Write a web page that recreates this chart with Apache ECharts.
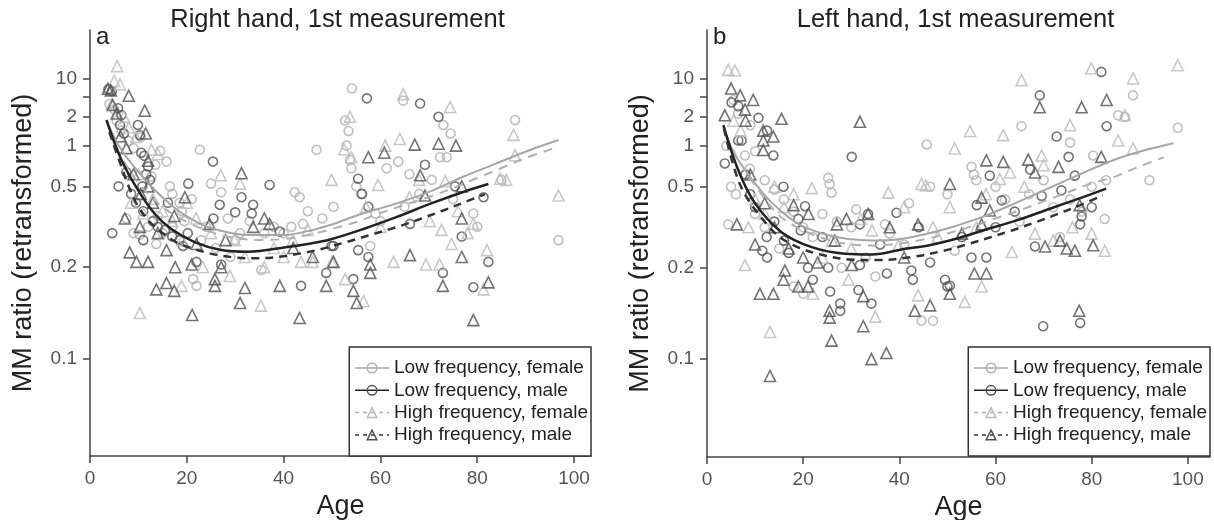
<!DOCTYPE html>
<html><head><meta charset="utf-8">
<script src="https://cdn.jsdelivr.net/npm/echarts@6/dist/echarts.min.js"></script>
<style>html,body{margin:0;padding:0;background:#fff}#c{width:1214px;height:520px}</style>
</head><body><div id="c"></div><script>
// ---------- data (age, MM ratio) ----------
const seriesNames = ['Low frequency, female','Low frequency, male','High frequency, female','High frequency, male'];
const panelTitles = ['Right hand, 1st measurement','Left hand, 1st measurement'];
const panelLetters = ['a','b'];
const ageTicks = [0,20,40,60,80,100];
const yTickValues = [0.1,0.2,0.5,1,2,4,10];
const yLabelValues = [0.1,0.2,0.5,1,2,10];

// Panel a points
const aLFF = [[4,3],[5,2.5],[5.5,1.8],[6.5,1.4],[8,1.1],[9,0.95],[10.5,1.2],[12.7,0.58],[13.5,0.7],[14.5,0.9],[15.8,0.74],[16.5,0.5],[17,0.45],[18.5,0.4],[19,0.36],[21,0.42],[22.7,0.92],[24,0.3],[25,0.52],[27.1,0.46],[28.5,0.33],[30,0.26],[31,0.28],[21.3,0.18],[22,0.17],[10.3,0.275],[13.7,0.25],[14,0.34],[7.5,0.33],[9,0.28],[35.4,0.195],[41.6,0.3],[42.3,0.46],[43.3,0.43],[44,0.31],[46.8,0.92],[40,0.28],[48,0.33],[50.3,0.38],[52.7,1.8],[53.4,1.38],[53,1.0],[53.7,0.76],[54,0.66],[54.1,5.7],[55,0.5],[56,0.45],[57.9,0.245],[59,0.35],[61.3,0.66],[63.7,0.74],[64.7,3.4],[66,0.6],[70.6,0.55],[72.3,0.8],[73.7,0.8],[73,1.6],[74.5,1.3],[75,0.42],[79.2,0.35],[80,0.3],[87.8,1.83],[85,0.55],[96.8,0.26],[60,0.32],[65,0.38],[68,0.45],[45,0.36],[38,0.3],[33,0.32],[36,0.28],[26,0.24],[29,0.22],[17,0.3],[19.5,0.32],[15,0.28],[12,0.3],[23,0.26]];
const aLFM = [[3.8,5.5],[4.5,5.0],[5.8,2.6],[6.5,2.1],[6.2,1.6],[7,1.3],[9.9,1.6],[10.3,1.25],[10.6,0.87],[11.2,0.82],[11.6,0.6],[12,0.68],[12.4,0.55],[10.8,0.5],[7.5,0.62],[5.9,0.5],[8.5,0.45],[9.5,0.4],[11,0.36],[13,0.32],[14,0.3],[16.1,0.4],[15.5,0.29],[17,0.27],[18.5,0.26],[4.6,0.28],[11,0.26],[20.3,0.52],[19.2,0.245],[20.2,0.28],[22,0.21],[25.4,0.74],[26.8,0.39],[25.5,0.33],[27.1,0.205],[30,0.355],[31.3,0.43],[33.4,0.35],[33.7,0.39],[37.1,0.51],[39.2,0.285],[43.6,0.17],[48.8,0.19],[49.9,0.245],[57.2,3.7],[68.2,3.05],[72,2.0],[69.2,0.7],[55.4,0.56],[56.2,0.45],[57.5,0.38],[75.4,0.5],[81.3,0.43],[66.1,0.31],[76.8,0.27],[50.3,0.245],[55.4,0.235],[57.5,0.22],[82.3,0.21],[72.9,0.19],[54.4,0.18],[79.2,0.168]];
const aHFF = [[5.6,27],[5,8.5],[6.2,7],[4.5,3],[7,2],[8,1.5],[9.5,1.2],[12.7,0.92],[14,0.85],[10,0.6],[8.5,0.4],[11,0.35],[13,0.42],[27,0.59],[31,0.52],[21.9,0.33],[23.3,0.2],[28.9,0.185],[18.9,0.17],[35.3,0.145],[10.3,0.137],[29.9,0.26],[41.9,0.26],[43.6,0.21],[46,0.21],[50,0.21],[49.9,0.55],[53.7,2.0],[52.5,0.93],[54,0.8],[52.7,0.18],[56.5,0.15],[59.5,0.51],[61,1.0],[62.7,0.21],[64,1.15],[64.7,4.4],[69.4,0.205],[70.2,0.32],[72.2,0.205],[72.6,0.29],[73.4,0.54],[74.4,2.7],[74.7,0.25],[79.2,0.31],[81.3,0.165],[82,0.235],[84.7,0.56],[86,0.55],[87.5,1.26],[87.8,0.83],[96.8,0.44],[20,0.4],[25,0.28],[32,0.22],[38,0.24],[15,0.36],[17,0.32],[19,0.26],[57,0.38],[60,0.3],[66,0.43],[68,0.55],[76,0.36],[78,0.28],[45,0.29],[40,0.22],[36,0.2]];
const aHFM = [[3.7,5.6],[4.3,5.2],[8,4.1],[4.7,2.9],[11.3,2.4],[6.3,1.22],[7.5,0.95],[11.5,1.3],[12,0.75],[9,0.6],[10.5,0.45],[19.6,0.43],[17.4,0.34],[7.2,0.33],[10.3,0.3],[24.7,0.31],[37.1,0.31],[33.7,0.3],[31.3,0.61],[8.2,0.23],[9.6,0.21],[12,0.21],[15.8,0.235],[17.6,0.2],[21,0.205],[27.1,0.2],[25.8,0.18],[25.8,0.17],[13.7,0.165],[15.8,0.174],[17.4,0.163],[32,0.167],[39.2,0.17],[48.8,0.17],[31,0.148],[21.1,0.135],[43.3,0.132],[50.3,0.21],[54.4,0.163],[55.1,0.148],[57.9,0.205],[57.9,0.19],[57.5,0.8],[60.8,0.87],[66.1,0.224],[67.1,1.02],[68.2,0.59],[69.2,0.44],[72,1.04],[72.9,0.17],[75.6,1.0],[76.8,0.5],[76.8,0.33],[76.8,0.22],[79.2,0.13],[82.3,0.175],[14,0.28],[22,0.25],[28,0.26],[36,0.33],[42,0.24],[46,0.22],[12,0.5],[13,0.4],[5.5,2.2]];

// Panel b points
const bLFF = [[4.4,0.31],[7.9,0.83],[8.9,0.66],[5,0.5],[6,0.45],[4,1.0],[5.5,3.5],[6.5,2.2],[9,1.6],[10,0.9],[12,0.55],[14,0.48],[16,0.42],[18,0.36],[20,0.3],[22,0.27],[25.2,0.57],[25.5,0.52],[25.9,0.46],[24,0.35],[27,0.32],[30,0.3],[37,0.31],[38,0.28],[35,0.185],[45.7,1.03],[46.4,0.5],[50,0.45],[51.5,0.235],[55,0.68],[55.5,0.6],[56,0.55],[60,0.5],[62,0.42],[65.4,1.56],[67,0.45],[70,0.55],[73.4,0.27],[75.5,1.07],[75.5,0.42],[80.3,0.83],[82.7,0.33],[85.5,2.1],[86.9,2.0],[88.6,4.2],[80,0.5],[97.9,1.5],[92,0.55],[18,0.17],[20,0.16],[28,0.2],[33,0.22],[41,0.25],[44.6,0.13],[47,0.13],[57,0.3],[65,0.32],[72,0.38],[78,0.36],[83,0.55],[42,0.4],[31,0.37],[12,0.3],[10,0.35],[15,0.24]];
const bLFM = [[5.1,3.2],[6.5,2.8],[10.7,1.95],[6.5,1.12],[7.2,1.12],[3.7,0.72],[13.8,0.83],[12.5,1.4],[12.4,0.27],[11.5,0.235],[12.5,0.22],[15.9,0.5],[20.4,0.385],[19,0.33],[19.5,0.29],[30.1,0.81],[31.8,0.31],[33.5,0.35],[39.4,0.355],[46.4,0.21],[42.5,0.195],[42.8,0.18],[37.4,0.19],[31.8,0.205],[25.2,0.2],[25.6,0.163],[27.7,0.148],[27.7,0.14],[34.2,0.148],[31.5,0.165],[50,0.17],[49.5,0.18],[50.5,0.171],[55,0.22],[58.1,0.22],[56.1,0.39],[58.8,0.59],[61.3,0.415],[67.2,0.65],[69.6,0.44],[69.2,4.2],[72.7,1.22],[73.7,0.475],[75.2,0.81],[76.5,0.59],[77.9,0.34],[77.6,0.31],[82,16],[83.1,1.56],[68.2,0.245],[69.9,0.125],[77.6,0.128],[8,0.6],[9,0.45],[10,0.38],[14,0.32],[16,0.26],[17,0.23],[21,0.2],[22,0.18],[24,0.27],[36,0.25],[44,0.3],[53,0.27],[60,0.3],[64,0.36],[80,0.38]];
const bHFF = [[4.4,19],[5.8,18],[5.5,1.8],[7,1.4],[8.6,0.3],[7.9,0.205],[13.1,0.12],[21.8,0.49],[18,0.45],[16,0.38],[14,0.5],[34.3,0.29],[37.7,0.46],[39.8,0.248],[29.4,0.18],[35,0.134],[43.9,0.158],[44.6,0.52],[45.5,0.51],[50.5,0.38],[51.5,0.95],[53.6,0.15],[54.7,1.38],[57.1,0.17],[60.9,0.56],[61.6,1.26],[63.4,0.232],[65.4,9],[68.2,0.28],[69.6,0.83],[75.5,1.6],[79.9,22],[82.7,0.235],[85.5,1.12],[86.9,2.1],[88.6,10],[88.6,0.95],[97.9,30],[47,0.3],[41,0.38],[26,0.26],[24,0.22],[30,0.24],[12,0.35],[10,0.42],[22,0.16],[32,0.33],[56,0.3],[66,0.5],[72,0.26],[76,0.3],[80,0.28],[58,0.45],[63,0.62],[70,0.7],[48,0.27]];
const bHFM = [[5,5.7],[6.9,4.2],[9.6,3.5],[7.9,2.5],[3.7,2.1],[15.5,1.9],[31.8,1.75],[11.7,1.4],[11.7,1.12],[13.8,1.22],[11.7,0.92],[6.2,0.31],[10,0.25],[16.2,0.195],[11,0.16],[13.8,0.16],[13.1,0.09],[18,0.39],[21.1,0.35],[27,0.31],[29,0.33],[33.5,0.35],[43.9,0.31],[26.6,0.26],[30.1,0.205],[15.9,0.18],[19,0.17],[21,0.17],[25.5,0.14],[25.5,0.133],[32.5,0.157],[32.5,0.125],[25.9,0.113],[34.2,0.1],[37.3,0.104],[43.2,0.14],[46.4,0.146],[50.5,0.52],[50.5,0.16],[57.1,0.43],[58.8,0.365],[57.1,0.31],[55.6,0.19],[58.1,0.19],[58.1,0.76],[61.6,0.74],[66.8,0.77],[68.2,0.62],[69.2,2.7],[70.3,0.245],[73.1,0.68],[73.4,0.26],[74.8,0.24],[76.5,0.235],[77.5,0.39],[77.4,0.14],[77.9,2.7],[80.3,0.248],[82,0.81],[83.1,3.5],[8,1.8],[9,0.6],[12,0.4],[14,0.3],[17,0.24],[20,0.22],[23,0.21],[38,0.3],[41,0.22],[53,0.28]];

// Fitted curves (age, MM ratio)
const aCurveLFF = [[4,1.52],[6.5,0.916],[10,0.622],[13.4,0.475],[17,0.384],[20.2,0.336],[25,0.296],[32.6,0.2745],[40,0.2745],[46,0.29],[49.6,0.306],[56.5,0.351],[63.4,0.397],[70.2,0.464],[77.1,0.577],[84,0.718],[90.9,0.916],[96.8,1.124]];
const aCurveLFM = [[3.4,1.826],[6.5,0.761],[9.9,0.475],[13.4,0.348],[16.8,0.293],[21.6,0.255],[27.1,0.2355],[32.6,0.2315],[40.9,0.2426],[45,0.25],[49.6,0.2618],[56.5,0.293],[63.4,0.336],[70.2,0.394],[77.1,0.462],[82.3,0.517]];
const aCurveHFF = [[4,1.346],[6,0.865],[10,0.525],[15,0.379],[20,0.317],[25,0.2835],[30,0.266],[35,0.2605],[40,0.2632],[45,0.2745],[50,0.293],[55,0.317],[60,0.352],[65,0.389],[70,0.4315],[75,0.488],[80,0.566],[85,0.664],[90,0.789],[96,0.953]];
const aCurveHFM = [[4,1.346],[6,0.761],[9.2,0.415],[12,0.324],[14.7,0.2835],[17,0.2605],[19.6,0.245],[24.4,0.2286],[29.9,0.2189],[34.7,0.2173],[39.5,0.221],[44,0.2286],[47.8,0.2378],[53,0.2552],[57.9,0.2745],[63.4,0.2995],[68.2,0.328],[72.7,0.361],[77.5,0.404],[81.6,0.449]];
const bCurveLFF = [[4,1.2],[6,0.818],[8,0.642],[10,0.525],[13,0.415],[17,0.336],[20,0.303],[24,0.2805],[28,0.2674],[32,0.2618],[36,0.2605],[41,0.266],[46,0.2805],[50,0.296],[57,0.336],[64,0.399],[71,0.488],[78,0.612],[85,0.775],[91,0.916],[97,1.055]];
const bCurveLFM = [[3.4,1.6],[6.5,0.642],[10,0.399],[15.5,0.2845],[21.8,0.2433],[28.7,0.228],[34.2,0.2264],[41.2,0.2394],[46,0.2475],[51.6,0.2646],[57.4,0.2897],[64.4,0.3243],[71.3,0.3731],[78.2,0.4332],[83,0.4863]];
const bCurveHFF = [[4,1.256],[6,0.833],[10,0.51],[15,0.344],[20,0.29],[25,0.2632],[30,0.25],[35,0.2475],[40,0.2526],[45,0.2632],[50,0.2805],[55,0.3029],[60,0.3319],[65,0.3653],[70,0.4093],[75,0.4618],[80,0.5251],[85,0.5837],[90,0.6861],[95,0.8031]];
const bCurveHFM = [[3.5,1.483],[5.8,0.642],[8,0.443],[12.1,0.317],[15,0.2716],[19,0.2426],[24.5,0.2242],[30,0.2158],[35.6,0.2148],[42.5,0.221],[49.5,0.2354],[54,0.25],[58.8,0.2688],[63.4,0.2898],[68.2,0.3169],[72.7,0.348],[77.5,0.3888],[82.3,0.4432]];

// ---------- build ----------
const T = v => -1 / Math.sqrt(v);           // retransformed y scale
const FONT = "'Liberation Sans', Arial, Helvetica, sans-serif";
const styles = [
  {sym:'circle',   size:9,  pt:'#b0b0b0', line:'#a6a6a6', lw:2,   dash:'solid'},
  {sym:'circle',   size:9,  pt:'#525252', line:'#222222', lw:2.5, dash:'solid'},
  {sym:'triangle', size:11, pt:'#bcbcbc', line:'#b0b0b0', lw:2,   dash:[9,7]},
  {sym:'triangle', size:11, pt:'#505050', line:'#333333', lw:2.5, dash:[8,6]}
];
const panels = [
  {pts:[aLFF,aLFM,aHFF,aHFM], curves:[aCurveLFF,aCurveLFM,aCurveHFF,aCurveHFM]},
  {pts:[bLFF,bLFM,bHFF,bHFM], curves:[bCurveLFF,bCurveLFM,bCurveHFF,bCurveHFM]}
];
const grids = [
  {left:90, top:30, width:501, height:426, outerBoundsMode:'none', containLabel:false},
  {left:707, top:30, width:503, height:427, outerBoundsMode:'none', containLabel:false}
];
const xMax = [103.5, 104.6];

const xAxes = [], yAxes = [], series = [], titles = [], legends = [];
panels.forEach((p, i) => {
  xAxes.push({
    type:'value', gridIndex:i, min:0, max:xMax[i],
    name:'Age', nameLocation:'middle', nameGap:33,
    nameTextStyle:{fontFamily:FONT, fontSize:27, color:'#222'},
    axisLine:{onZero:false, lineStyle:{color:'#444', width:1.5}},
    axisTick:{length:7, lineStyle:{color:'#444', width:1.5}, customValues:ageTicks},
    axisLabel:{fontFamily:FONT, fontSize:19, color:'#555', margin:13, customValues:ageTicks},
    splitLine:{show:false}
  });
  yAxes.push({
    type:'value', gridIndex:i, min:-4.155, max:0.175,
    name:'MM ratio (retransformed)', nameLocation:'middle', nameGap:53, nameRotate:90,
    nameTextStyle:{fontFamily:FONT, fontSize:27, color:'#222'},
    axisLine:{onZero:false, lineStyle:{color:'#444', width:1.5}},
    axisTick:{length:7, lineStyle:{color:'#444', width:1.5}, customValues:yTickValues.map(T)},
    axisLabel:{fontFamily:FONT, fontSize:19, color:'#555', margin:13,
      customValues:yLabelValues.map(T),
      formatter: v => { for (const L of yLabelValues) if (Math.abs(T(L) - v) < 1e-6) return String(L); return ''; }},
    splitLine:{show:false}
  });
  p.pts.forEach((arr, k) => {
    const s = styles[k];
    series.push({
      type:'scatter', name:seriesNames[k] + ' (points ' + panelLetters[i] + ')',
      xAxisIndex:i, yAxisIndex:i, symbol:s.sym, symbolSize:s.size, silent:true, z:2,
      itemStyle:{color:'rgba(0,0,0,0)', borderColor:s.pt, borderWidth:1.6},
      data:arr.map(d => [d[0], T(d[1])])
    });
  });
  p.curves.forEach((arr, k) => {
    const s = styles[k];
    series.push({
      type:'line', name:seriesNames[k], xAxisIndex:i, yAxisIndex:i,
      symbol:s.sym, showSymbol:false, smooth:0.35, silent:true, z:5 + (k % 2),
      lineStyle:{color:s.line, width:s.lw, type:s.dash},
      itemStyle:{color:'rgba(0,0,0,0)', borderColor:s.pt, borderWidth:1.5},
      data:arr.map(d => [d[0], T(d[1])])
    });
  });
  titles.push({text:panelTitles[i], left:grids[i].left + grids[i].width / 2 - 3, top:7, textAlign:'center', padding:0,
    textStyle:{fontFamily:FONT, fontSize:25.5, fontWeight:'normal', color:'#222'}});
  titles.push({text:panelLetters[i], left:grids[i].left + 6, top:25, padding:0,
    textStyle:{fontFamily:FONT, fontSize:24, fontWeight:'normal', color:'#222'}});
  legends.push({
    orient:'vertical', right:(i === 0 ? 1214 - 591 : 4), top:347,
    padding:[11, 3, 11, 5], itemGap:2.3, itemWidth:34, itemHeight:12,
    borderColor:'#333', borderWidth:1.5, backgroundColor:'#fff', selectedMode:false,
    textStyle:{fontFamily:FONT, fontSize:19, color:'#222', lineHeight:20},
    data:seriesNames.map((n, k) => ({name:n,
      itemStyle:{color:'rgba(0,0,0,0)', borderColor:styles[k].pt, borderWidth:1.5},
      lineStyle:{color:styles[k].line, width:1.5, type:(k < 2 ? 'solid' : [4,4])}}))
  });
});

const chart = echarts.init(document.getElementById('c'), null, {renderer:'canvas'});
chart.setOption({
  animation:false, backgroundColor:'#fff',
  title:titles, legend:legends, grid:grids, xAxis:xAxes, yAxis:yAxes, series:series
});
</script></body></html>
